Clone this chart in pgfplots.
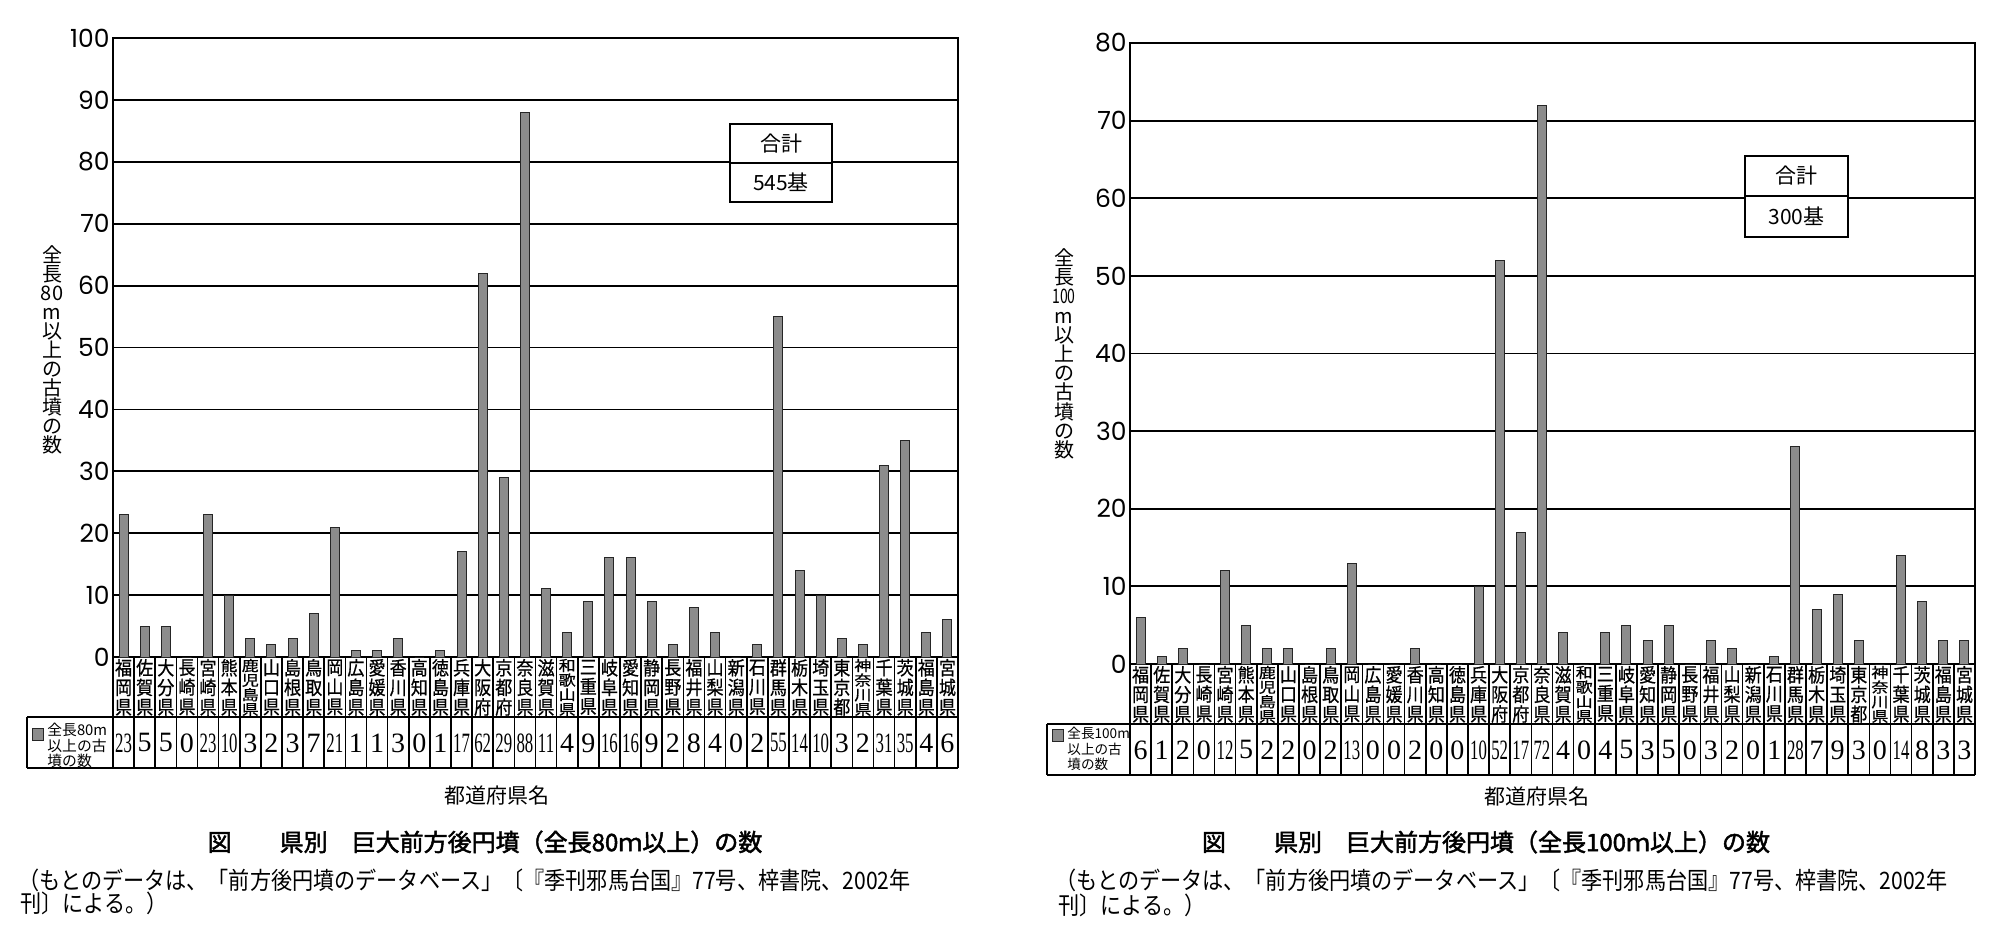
\documentclass[border=0pt]{standalone}
\usepackage{fontspec}
\setmainfont{Noto Sans CJK JP}
\newfontfamily\tickfont{Poppins}
\newfontfamily\valfont{Liberation Serif}
\newfontfamily\boldcjk[FakeBold=2]{Noto Sans CJK JP}
\newfontfamily\semicjk[FakeBold=0.8]{Noto Sans CJK JP}
\usepackage{pgfplots}
\usepackage{pgfplotstable}
\pgfplotsset{compat=1.18}

\pgfplotstableread[col sep=comma]{
x,n,v
0,福岡県,23
1,佐賀県,5
2,大分県,5
3,長崎県,0
4,宮崎県,23
5,熊本県,10
6,鹿児島県,3
7,山口県,2
8,島根県,3
9,鳥取県,7
10,岡山県,21
11,広島県,1
12,愛媛県,1
13,香川県,3
14,高知県,0
15,徳島県,1
16,兵庫県,17
17,大阪府,62
18,京都府,29
19,奈良県,88
20,滋賀県,11
21,和歌山県,4
22,三重県,9
23,岐阜県,16
24,愛知県,16
25,静岡県,9
26,長野県,2
27,福井県,8
28,山梨県,4
29,新潟県,0
30,石川県,2
31,群馬県,55
32,栃木県,14
33,埼玉県,10
34,東京都,3
35,神奈川県,2
36,千葉県,31
37,茨城県,35
38,福島県,4
39,宮城県,6
}\dataA

\pgfplotstableread[col sep=comma]{
x,n,v
0,福岡県,6
1,佐賀県,1
2,大分県,2
3,長崎県,0
4,宮崎県,12
5,熊本県,5
6,鹿児島県,2
7,山口県,2
8,島根県,0
9,鳥取県,2
10,岡山県,13
11,広島県,0
12,愛媛県,0
13,香川県,2
14,高知県,0
15,徳島県,0
16,兵庫県,10
17,大阪府,52
18,京都府,17
19,奈良県,72
20,滋賀県,4
21,和歌山県,0
22,三重県,4
23,岐阜県,5
24,愛知県,3
25,静岡県,5
26,長野県,0
27,福井県,3
28,山梨県,2
29,新潟県,0
30,石川県,1
31,群馬県,28
32,栃木県,7
33,埼玉県,9
34,東京都,3
35,神奈川県,0
36,千葉県,14
37,茨城県,8
38,福島県,3
39,宮城県,3
}\dataB

\newcount\nchars
\makeatletter
\newcommand\stackname[1]{%
  \nchars=0
  \@tfor\cc:=#1\do{\advance\nchars by 1 }%
  \semicjk\fontsize{10}{10}\selectfont
  \ifnum\nchars>3
    \vbox{\baselineskip=7.3pt\lineskiplimit=-20pt\lineskip=0pt
      \@tfor\cc:=#1\do{\hbox to 10.6pt{\hss\scalebox{0.85}[0.72]{\cc}\hss}}}%
  \else
    \vbox{\baselineskip=9.8pt\lineskiplimit=-20pt\lineskip=0pt
      \@tfor\cc:=#1\do{\hbox to 10.6pt{\hss\scalebox{0.85}[0.95]{\cc}\hss}}}%
  \fi}
\makeatother
\newcommand\V[1]{\ifnum#1>9 \scalebox{0.6}[1]{#1}\else#1\fi}
\newcommand\cellbox[2]{\vbox{\offinterlineskip
  \vbox to 30pt{\vss\hbox to 10.6pt{\hss\expandafter\stackname\expandafter{#1}\hss}\vss}%
  \vbox to 25.5pt{\vss\hbox to 10.6pt{\hss\valfont\fontsize{14}{14}\selectfont\V{#2}\hss}\vss}}}

\pgfplotsset{
  kofun/.style={
    anchor=south west, scale only axis,
    width=422.5pt,
    xmin=-0.5, xmax=39.5, ymin=0,
    ybar, bar width=4.5pt,
    xtick={0,...,39},
    tick pos=left,
    major tick length=0pt,
    xticklabel style={anchor=north, inner sep=0pt},
    extra x ticks={-0.5,0.5,...,39.5},
    extra x tick labels={},
    extra x tick style={major tick length=55.5pt, tick align=outside,
      tick style={black, line width=0.8pt}, grid=none},
    ymajorgrids=true,
    major grid style={black, line width=0.9pt},
    axis line style={black, line width=0.9pt},
    /pgf/number format/assume math mode=true,
    yticklabel style={font=\tickfont\fontsize{12.5}{13}\selectfont, inner sep=1.5pt},
  }
}

\begin{document}
\begin{tikzpicture}
% ---------- left chart ----------
\begin{axis}[kofun,
  at={(56.5pt,138pt)}, height=309.5pt,
  ymax=100, ytick={0,10,...,100},
  xticklabel={\pgfplotstablegetelem{\ticknum}{n}\of\dataA\let\tmpn\pgfplotsretval\pgfplotstablegetelem{\ticknum}{v}\of\dataA\let\tmpv\pgfplotsretval\cellbox\tmpn\tmpv},
]
\addplot[fill=black!45, draw=black!85, line width=0.5pt] table[x=x, y=v] {\dataA};
\end{axis}
% ---------- right chart ----------
\begin{axis}[kofun,
  at={(565pt,134.5pt)}, height=310.5pt,
  ymax=80, ytick={0,10,...,80},
  xticklabel={\pgfplotstablegetelem{\ticknum}{n}\of\dataB\let\tmpn\pgfplotsretval\pgfplotstablegetelem{\ticknum}{v}\of\dataB\let\tmpv\pgfplotsretval\cellbox\tmpn\tmpv},
]
\addplot[fill=black!45, draw=black!85, line width=0.5pt] table[x=x, y=v] {\dataB};
\end{axis}

\begin{scope}[x=0.5pt, y=-0.5pt, yshift=466.5pt]
  % table frames
  \draw[line width=0.8pt] (27,717) -- (958,717) (27,768) -- (958,768) (27,717) -- (27,768);
  \draw[line width=0.8pt] (1047,724) -- (1975,724) (1047,775) -- (1975,775) (1047,724) -- (1047,775);
  % legend cells
  \draw[fill=black!45, draw=black!85, line width=0.5pt] (32,728) rectangle (43,740);
  \node[anchor=north west, align=left, inner sep=0pt, font=\fontsize{7.4}{7.6}\selectfont] at (47,723) {全長80m\\以上の古\\墳の数};
  \draw[fill=black!45, draw=black!85, line width=0.5pt] (1052,729) rectangle (1063,741);
  \node[anchor=north west, align=left, inner sep=0pt, font=\fontsize{6.8}{7.6}\selectfont] at (1067,727) {全長100m\\以上の古\\墳の数};
  % total boxes
  \draw[fill=white, line width=0.8pt] (730,124) rectangle (832,202);
  \draw[line width=0.8pt] (730,163) -- (832,163);
  \node[font=\fontsize{10.5}{10.5}\selectfont] at (781,143.5) {合計};
  \node[font=\fontsize{10.5}{10.5}\selectfont] at (781,182.5) {545基};
  \draw[fill=white, line width=0.8pt] (1745,156) rectangle (1848,237);
  \draw[line width=0.8pt] (1745,196) -- (1848,196);
  \node[font=\fontsize{10.5}{10.5}\selectfont] at (1796.5,176) {合計};
  \node[font=\fontsize{10.5}{10.5}\selectfont] at (1796.5,216.5) {300基};
  % y labels
  \node[align=center, inner sep=0pt, font=\fontsize{10}{9.5}\selectfont] at (52,350) {全\\長\\80\\m\\以\\上\\の\\古\\墳\\の\\数};
  \node[align=center, inner sep=0pt, font=\fontsize{10}{9.6}\selectfont] at (1064,354) {全\\長\\\scalebox{0.7}[1]{100}\\m\\以\\上\\の\\古\\墳\\の\\数};
  % x labels
  \node[font=\fontsize{10.5}{10.5}\selectfont] at (497,796) {都道府県名};
  \node[font=\fontsize{10.5}{10.5}\selectfont] at (1537,797) {都道府県名};
  % titles
  \node[font=\boldcjk\fontsize{12}{12}\selectfont] at (485,842) {図\quad\quad 県別\quad 巨大前方後円墳（全長80ｍ以上）の数};
  \node[font=\boldcjk\fontsize{12}{12}\selectfont] at (1486,842) {図\quad\quad 県別\quad 巨大前方後円墳（全長100ｍ以上）の数};
  % notes
  \node[anchor=west, inner sep=0pt, font=\fontsize{12}{12}\selectfont] at (18,880) {\scalebox{0.88}[1]{（もとのデータは、「前方後円墳のデータベース」〔『季刊邪馬台国』77号、梓書院、2002年}};
  \node[anchor=west, inner sep=0pt, font=\fontsize{12}{12}\selectfont] at (20,903) {\scalebox{0.88}[1]{刊〕による。）}};
  \node[anchor=west, inner sep=0pt, font=\fontsize{12}{12}\selectfont] at (1055,880) {\scalebox{0.88}[1]{（もとのデータは、「前方後円墳のデータベース」〔『季刊邪馬台国』77号、梓書院、2002年}};
  \node[anchor=west, inner sep=0pt, font=\fontsize{12}{12}\selectfont] at (1058,905) {\scalebox{0.88}[1]{刊〕による。）}};
\end{scope}
\pgfresetboundingbox
\useasboundingbox (0,0) rectangle (1000pt,466.5pt);
\end{tikzpicture}
\end{document}
